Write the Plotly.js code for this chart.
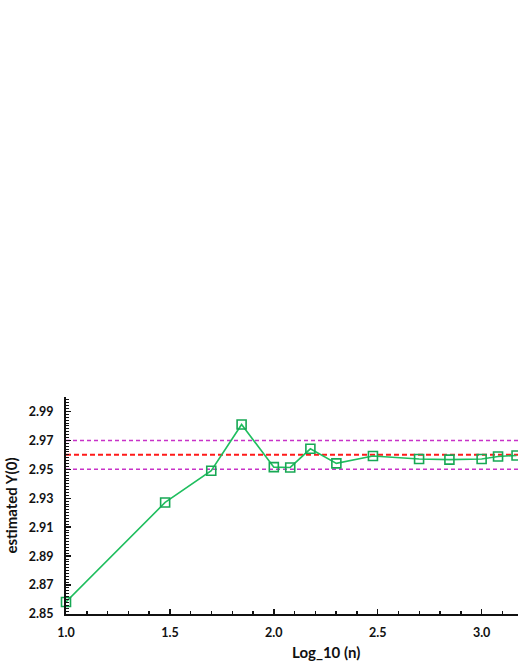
<!DOCTYPE html>
<html>
<head>
<meta charset="utf-8">
<script src="https://cdn.plot.ly/plotly-3.0.0.min.js"></script>
<style>
  html, body { margin: 0; padding: 0; background: #ffffff; }
  #chart { width: 518px; height: 670px; }
</style>
</head>
<body>
<div id="chart"></div>
<script>
// log10 of sample size and the estimate read at each size
const logN = [1.0, 1.477, 1.699, 1.845, 2.0, 2.079, 2.176, 2.301, 2.477, 2.699, 2.845, 3.0, 3.079, 3.168];
const estY0 = [2.8583, 2.9271, 2.9490, 2.9810, 2.9515, 2.9513, 2.9642, 2.9541, 2.9592, 2.9571, 2.9567, 2.9571, 2.9589, 2.9596];

// reference value and its band
const trueLevel = [2.96];
const bandLevels = [2.95, 2.97];

const xTicks = [1.0, 1.5, 2.0, 2.5, 3.0];

const font = 'Lato, "Open Sans", sans-serif';

const shapes = [];
bandLevels.forEach((v) => {
  shapes.push({
    type: 'line', xref: 'paper', yref: 'y', x0: 0, x1: 1, y0: v, y1: v,
    line: { color: '#c832c8', width: 1.5, dash: '4px,3px' },
    layer: 'below',
  });
});
trueLevel.forEach((v) => {
  shapes.push({
    type: 'line', xref: 'paper', yref: 'y', x0: 0, x1: 1, y0: v, y1: v,
    line: { color: '#ff1a1a', width: 2, dash: '5px,3px' },
    layer: 'below',
  });
});

const data = [
  {
    x: logN,
    y: estY0,
    type: 'scatter',
    mode: 'lines+markers',
    cliponaxis: false,
    line: { color: '#1fbe5e', width: 1.6 },
    marker: {
      symbol: 'square-open',
      size: 9,
      color: '#17a854',
      line: { color: '#17a854', width: 1.6 },
    },
    hoverinfo: 'x+y',
  },
];

const layout = {
  width: 518,
  height: 670,
  margin: { l: 66, r: 0, t: 397, b: 56 },
  paper_bgcolor: '#ffffff',
  plot_bgcolor: '#ffffff',
  showlegend: false,
  font: { family: font, color: '#111111' },
  shapes: shapes,
  xaxis: {
    range: [1.0, 3.175],
    tickvals: xTicks,
    ticktext: xTicks.map((v) => v.toFixed(1)),
    ticks: 'inside',
    ticklen: 5,
    tickwidth: 1.5,
    tickcolor: '#111111',
    minor: { dtick: 0.1, tick0: 1.0, ticks: 'inside', ticklen: 3, tickwidth: 1.5, tickcolor: '#111111' },
    showline: true,
    linecolor: '#111111',
    linewidth: 2,
    showgrid: false,
    zeroline: false,
    ticklabelstandoff: 6,
    tickfont: { family: font, size: 12.5, color: '#111111', weight: 'bold' },
  },
  yaxis: {
    range: [2.85, 3.0],
    tick0: 2.85,
    dtick: 0.02,
    tickformat: '.2f',
    ticks: 'inside',
    ticklen: 5,
    tickwidth: 1.5,
    tickcolor: '#111111',
    minor: { dtick: 0.002, tick0: 2.85, ticks: 'inside', ticklen: 3, tickwidth: 1, tickcolor: '#111111' },
    showline: true,
    linecolor: '#111111',
    linewidth: 2,
    showgrid: false,
    zeroline: false,
    ticklabelstandoff: 8,
    tickfont: { family: font, size: 12.5, color: '#111111', weight: 'bold' },
    title: {
      text: 'estimated Y(0)',
      font: { family: font, size: 15, color: '#111111', weight: 'bold' },
      standoff: 8,
    },
  },
  annotations: [
    {
      text: 'Log_10 (n)',
      xref: 'x', yref: 'paper',
      x: 2.25, y: 0,
      yshift: -49,
      showarrow: false,
      font: { family: font, size: 15, color: '#111111', weight: 'bold' },
    },
  ],
};

Plotly.newPlot('chart', data, layout, { displayModeBar: false, staticPlot: true });
</script>
</body>
</html>
